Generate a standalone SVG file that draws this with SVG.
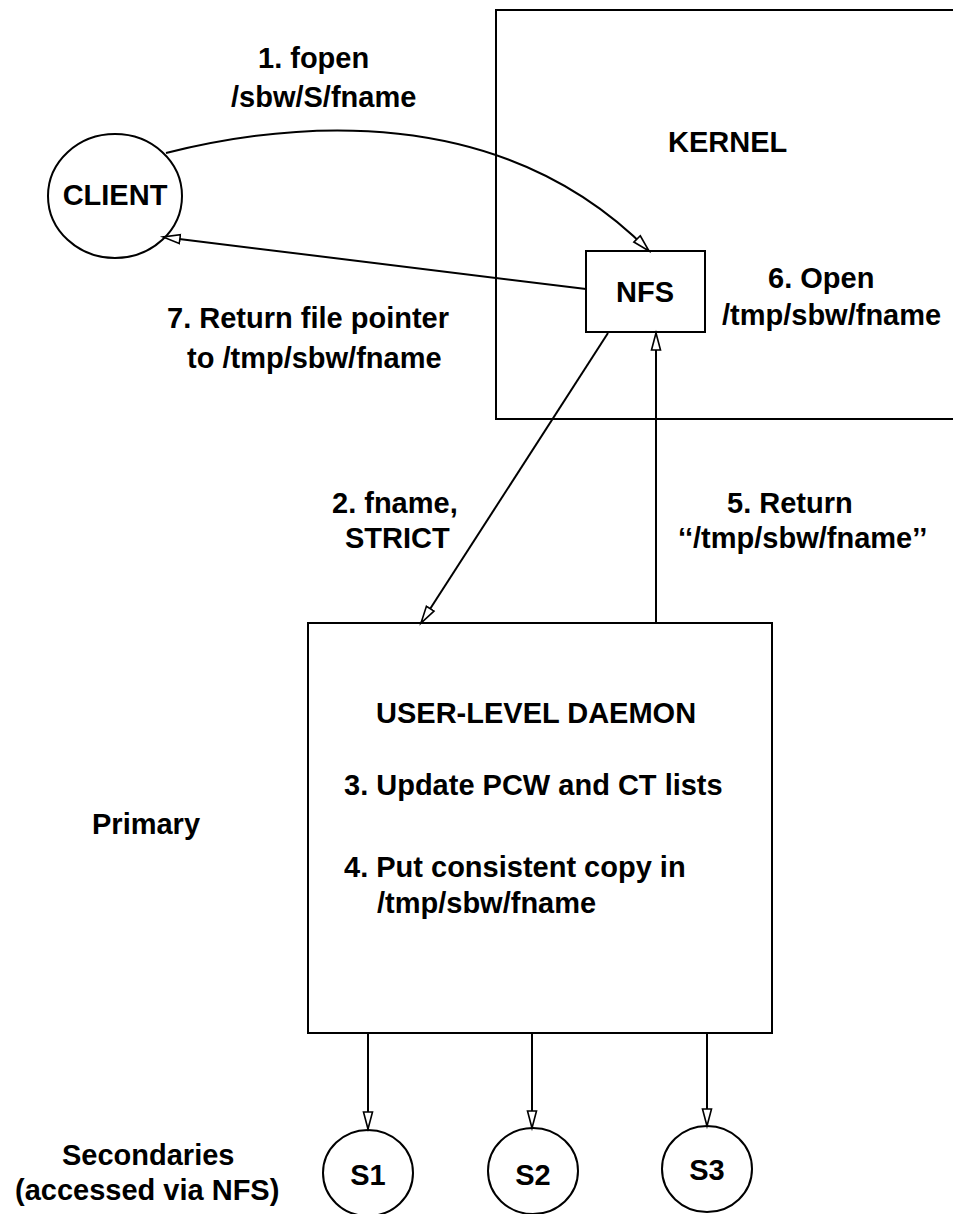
<svg xmlns="http://www.w3.org/2000/svg" width="953" height="1214" viewBox="0 0 953 1214">
<style>
.shape{fill:#fff;stroke:#000;stroke-width:2}
.conn{fill:none;stroke:#000;stroke-width:2}
text{font-family:"Liberation Sans",Arial,sans-serif;font-weight:bold;font-size:29px;fill:#000}
.mid{text-anchor:middle}
</style>
<defs>
<marker id="arr" markerUnits="userSpaceOnUse" markerWidth="22" markerHeight="14" refX="18" refY="6" orient="auto">
<path d="M1,1.5 L18,6 L1,10.5 Z" fill="#fff" stroke="#000" stroke-width="1.6"/>
</marker>
</defs>
<rect width="953" height="1214" fill="#fff"/>
<g id="kernel">
<rect class="shape" x="496" y="10" width="480" height="409"/>
<text x="668" y="152">KERNEL</text>
</g>
<g id="nfs">
<rect class="shape" x="586" y="251" width="119" height="81"/>
<text class="mid" x="645" y="302">NFS</text>
</g>
<g id="client">
<ellipse class="shape" cx="115" cy="196" rx="67" ry="62"/>
<text class="mid" x="115" y="205">CLIENT</text>
</g>
<g id="daemon">
<rect class="shape" x="308" y="623" width="464" height="410"/>
<text x="376" y="723">USER-LEVEL DAEMON</text>
<text x="344" y="795">3. Update PCW and CT lists</text>
<text x="344" y="877">4. Put consistent copy in</text>
<text x="377" y="913">/tmp/sbw/fname</text>
</g>
<g id="s1">
<ellipse class="shape" cx="368" cy="1173" rx="45" ry="43"/>
<text class="mid" x="368" y="1185">S1</text>
</g>
<g id="s2">
<ellipse class="shape" cx="533" cy="1171" rx="45" ry="43"/>
<text class="mid" x="533" y="1185">S2</text>
</g>
<g id="s3">
<ellipse class="shape" cx="707" cy="1169" rx="45" ry="43"/>
<text class="mid" x="707" y="1180">S3</text>
</g>
<g id="connectors">
<path class="conn" d="M166,153 C290,122 500,100 649,251" marker-end="url(#arr)"/>
<line class="conn" x1="586" y1="289" x2="163" y2="237" marker-end="url(#arr)"/>
<line class="conn" x1="608" y1="333" x2="421" y2="623" marker-end="url(#arr)"/>
<line class="conn" x1="656" y1="623" x2="656" y2="333" marker-end="url(#arr)"/>
<line class="conn" x1="368" y1="1033" x2="368" y2="1129" marker-end="url(#arr)"/>
<line class="conn" x1="532" y1="1033" x2="532" y2="1128" marker-end="url(#arr)"/>
<line class="conn" x1="707" y1="1033" x2="707" y2="1126" marker-end="url(#arr)"/>
</g>
<g id="labels">
<text x="258" y="68">1. fopen</text>
<text x="231" y="107">/sbw/S/fname</text>
<text x="768" y="288">6. Open</text>
<text x="722" y="325">/tmp/sbw/fname</text>
<text x="167" y="328">7. Return file pointer</text>
<text x="187" y="368">to /tmp/sbw/fname</text>
<text x="332" y="513">2. fname,</text>
<text x="345" y="548">STRICT</text>
<text x="727" y="513">5. Return</text>
<text x="678" y="548">‘‘/tmp/sbw/fname’’</text>
<text x="92" y="834">Primary</text>
<text x="62" y="1165">Secondaries</text>
<text x="15" y="1200">(accessed via NFS)</text>
</g>
</svg>
